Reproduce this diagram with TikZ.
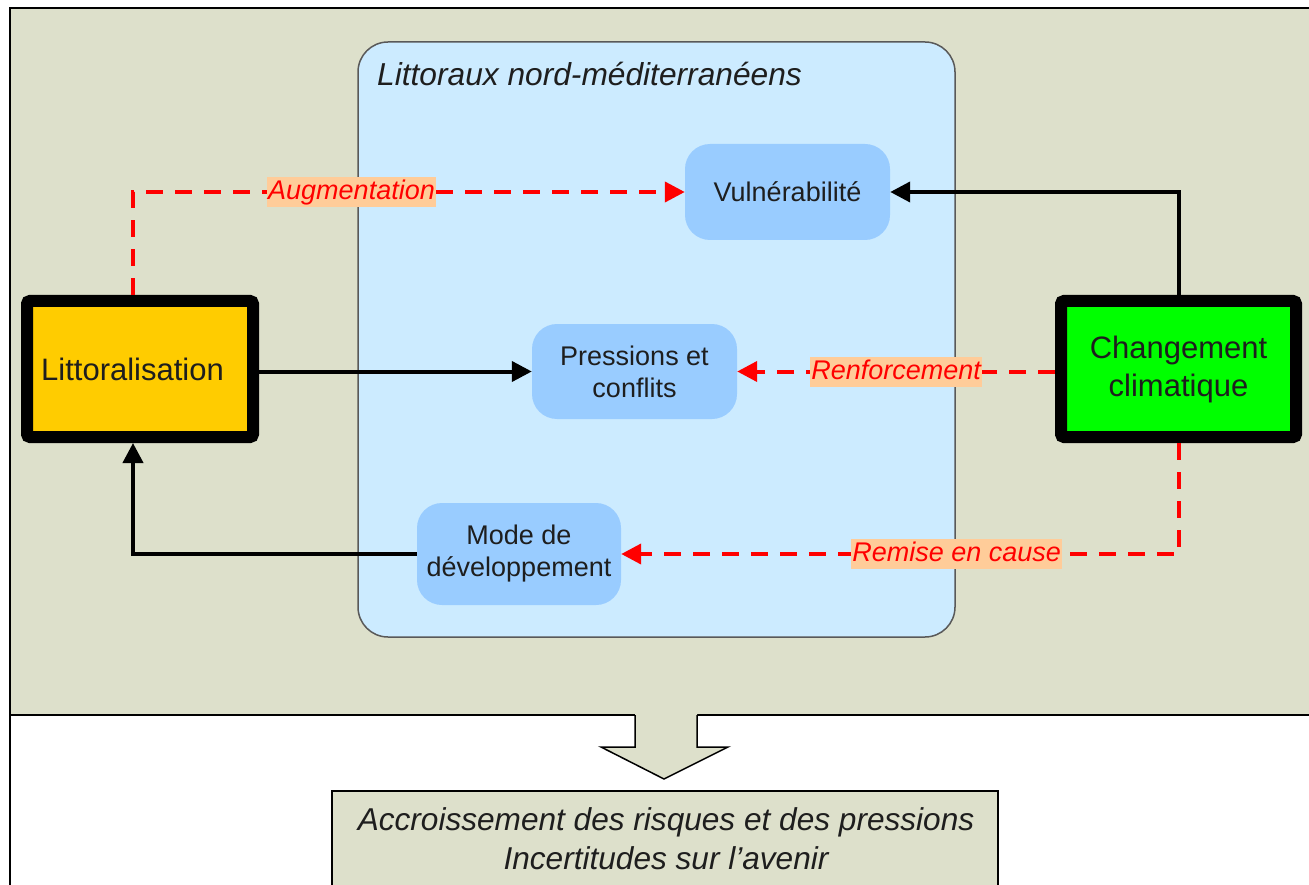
\documentclass[tikz,border=0pt]{standalone}
\usepackage{fontspec}
\setmainfont{Liberation Sans}
\usetikzlibrary{arrows.meta,calc}
\definecolor{bggreen}{RGB}{221,224,203}
\definecolor{contblue}{RGB}{204,235,255}
\definecolor{nodeblue}{RGB}{153,204,255}
\definecolor{littyellow}{RGB}{255,204,0}
\definecolor{climgreen}{RGB}{0,255,0}
\definecolor{lblorange}{RGB}{255,204,153}
\definecolor{txtdark}{RGB}{30,30,30}
\begin{document}
\begin{tikzpicture}[x=1pt,y=-1pt,
  thickbox/.style={draw=black, line width=12pt, rounded corners=3pt,
    minimum width=226pt, minimum height=136pt, inner sep=0pt,
    font=\fontsize{31}{38}\selectfont, align=center, text=txtdark},
  softbox/.style={fill=nodeblue, rounded corners=25pt, minimum width=205pt,
    minimum height=96pt, inner sep=0pt, font=\fontsize{27}{32}\selectfont,
    align=center, text=txtdark},
  container/.style={draw=black!65, line width=1.5pt, fill=contblue,
    rounded corners=30pt, minimum width=597pt, minimum height=595pt, inner sep=0pt},
  blk/.style={black, line width=4pt, -{Triangle[length=20pt,width=20pt]}},
  dsh/.style={red, line width=4pt, dash pattern=on 17pt off 12pt,
    -{Triangle[length=20pt,width=20pt]}},
  lbl/.style={fill=lblorange, text=red, font=\itshape\fontsize{27}{32}\selectfont,
    inner xsep=1pt, inner ysep=0.5pt, text height=22pt, text depth=7pt},
  frame/.style={black, line width=2pt}
]
\useasboundingbox (0,0) rectangle (1309,885);
\clip (0,0) rectangle (1309,885);

% outer frame
\fill[bggreen] (10,8) rectangle (1320,715);
\draw[frame] (1320,8) -- (10,8) -- (10,890);
\draw[frame] (10,715) -- (1320,715);

% block arrow down
\fill[bggreen] (635,712) -- (635,747) -- (601,747) -- (664,779) -- (728,747)
  -- (697,747) -- (697,712) -- cycle;
\draw[black, line width=1.5pt, line join=miter] (635,715) -- (635,747) -- (601,747)
  -- (664,779) -- (728,747) -- (697,747) -- (697,715);

% result box
\draw[frame, line width=1.5pt, fill=bggreen] (332,791) rectangle (998,895);
\node[font=\itshape\fontsize{31.6}{39}\selectfont, align=center, text=txtdark,
  inner sep=0pt] (res) at (666,839)
  {Accroissement des risques et des pressions\\Incertitudes sur l’avenir};

% container
\node[container] (cont) at (656.5,339.5) {};
\node[anchor=base west, inner sep=0pt, text=txtdark,
  font=\itshape\fontsize{31.7}{37}\selectfont] (title) at (377,86)
  {Littoraux nord-méditerranéens};

% inner nodes
\node[softbox] (vul) at (787.5,192) {Vulnérabilité};
\node[softbox, minimum height=95pt] (pres) at (634.5,371.5) {Pressions et\\conflits};
\node[softbox, minimum width=204pt, minimum height=102pt] (mode) at (519,554)
  {Mode de\\développement};

% thick boxes
\node[thickbox, fill=littyellow] (litt) at (140,369) {Littoralisation\hspace*{15pt}};
\node[thickbox, fill=climgreen, minimum width=235pt] (chg) at (1178.5,369)
  {Changement\\climatique};

% connectors
\coordinate (lx) at (133,192);
\draw[dsh] (litt.north -| lx) |- node[lbl, pos=0.698] (augm) {Augmentation} (vul.west);
\draw[blk] (litt.east |- pres.west) -- (pres.west);
\draw[dsh] (chg.west |- pres.east) -- node[lbl, pos=0.5] (renf) {Renforcement} (pres.east);
\draw[blk] (chg.north) |- (vul.east);
\draw[dsh] (chg.south) |- node[lbl, pos=0.699] (remi) {Remise en cause} (mode.east);
\draw[blk] (mode.west) -| (litt.south -| lx);
\end{tikzpicture}
\end{document}
